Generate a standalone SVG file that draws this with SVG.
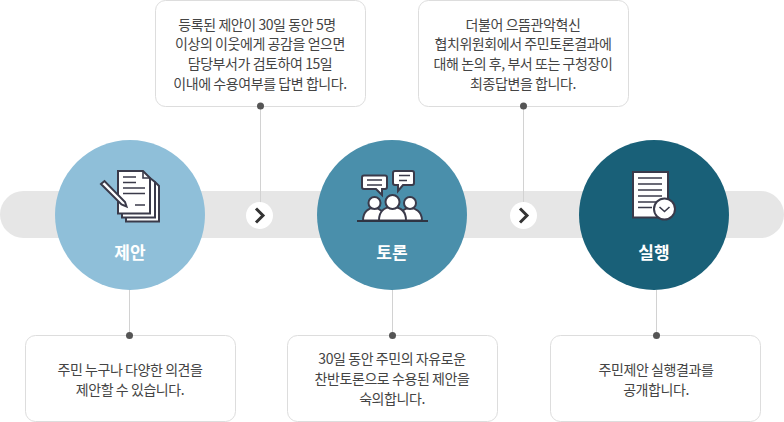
<svg xmlns="http://www.w3.org/2000/svg" width="784" height="422" viewBox="0 0 784 422">
<style>
.box{fill:#fff;stroke:#ddd;stroke-width:1}
.t{font-family:"Noto Sans CJK KR","Noto Sans",sans-serif;font-size:14px;fill:#444;text-anchor:middle;letter-spacing:-.43px}
.h{font-family:"Noto Sans CJK KR","Noto Sans",sans-serif;font-size:17px;font-weight:700;fill:#fff;text-anchor:middle}
.ln{stroke:#d2d2d2;stroke-width:1;fill:none}
.dot{fill:#555}
.ic{fill:#fff;stroke:#3a3a4a;stroke-width:2;stroke-linejoin:miter}
.il{stroke:#3a3a4a;stroke-width:1.6;fill:none}
.chev{fill:none;stroke:#333;stroke-width:3}
</style>
<rect id="band" x="0" y="191" width="784" height="47" rx="23.500" fill="#e6e6e6"/>
<g id="node-proposal">
<circle cx="130" cy="215" r="75" fill="#8fbfd9"/>
<path class="ic" d="M155 182L159 186V221.500H126V217"/>
<path class="ic" d="M150 178L155 182V217.500H122V213"/>
<path class="ic" d="M118 171H143L150 178V213.500H118Z"/>
<path class="il" d="M143 171V178H150M123 177H136M123 182.500H136M123 188H145M123 193.500H145M135 205H145"/>
<path class="ic" d="M101 184L104.500 181L125 202L126.500 206.500L121.500 204.500Z"/>
</g>
<g id="node-debate">
<circle cx="392" cy="215" r="75" fill="#4a8fab"/>
<path class="ic" d="M364 175.500H385Q387 175.500 387 177.500V187Q387 189 385 189H382V195L376 189H364Q362 189 362 187V177.500Q362 175.500 364 175.500Z"/>
<path class="il" d="M367 180H382M367 185H382"/>
<path class="ic" d="M395 171H412Q414 171 414 173V183Q414 185 412 185H403L398 191V185H395Q393 185 393 183V173Q393 171 395 171Z"/>
<path class="il" d="M399 175.500H410M399 180.500H407"/>
<path class="ic" d="M363 220.500C363 211 369 208 374 208C379 208 385 211 385 220.500Z"/>
<circle class="ic" cx="374.500" cy="203" r="6"/>
<path class="ic" d="M400 220.500C400 211 405 208 410 208C415 208 422 211 422 220.500Z"/>
<circle class="ic" cx="410" cy="203" r="6"/>
<path class="ic" d="M379 220.500C379 210 386 207 392 207C399 207 406 210 406 220.500Z"/>
<circle class="ic" cx="392.500" cy="202" r="7"/>
<path d="M357 221H428" stroke="#2f3442" stroke-width="1.800"/>
</g>
<g id="node-execute">
<circle cx="654" cy="215" r="75" fill="#196078"/>
<path class="ic" d="M633 172H668V217.500H633Z"/>
<path class="il" d="M638 178H662M638 184H662M638 190H662M638 196H662M638 202H660M638 207.500H652"/>
<circle class="ic" cx="664.500" cy="209" r="10.500"/>
<path class="il" d="M659.500 207L664.500 211.500L669.500 207" stroke-width="2"/>
</g>
<text class="h" x="130" y="259">제안</text>
<text class="h" x="392" y="259">토론</text>
<text class="h" x="654" y="259">실행</text>
<g id="box-top1">
<rect class="box" x="155.500" y="0.500" width="210" height="106" rx="10"/>
<text class="t" x="257" y="30">등록된 제안이 30일 동안 5명</text>
<text class="t" x="260" y="49">이상의 이웃에게 공감을 얻으면</text>
<text class="t" x="260" y="69">담당부서가 검토하여 15일</text>
<text class="t" x="260" y="89">이내에 수용여부를 답변 합니다.</text>
</g>
<g id="box-top2">
<rect class="box" x="418.500" y="0.500" width="210" height="106" rx="10"/>
<text class="t" x="523" y="30">더불어 으뜸관악혁신</text>
<text class="t" x="523" y="49">협치위원회에서 주민토론결과에</text>
<text class="t" x="523" y="69">대해 논의 후, 부서 또는 구청장이</text>
<text class="t" x="523" y="89">최종답변을 합니다.</text>
</g>
<g id="box-bottom1">
<rect class="box" x="25.500" y="335.500" width="210" height="86" rx="10"/>
<text class="t" x="130" y="375">주민 누구나 다양한 의견을</text>
<text class="t" x="130" y="395">제안할 수 있습니다.</text>
</g>
<g id="box-bottom2">
<rect class="box" x="287.500" y="335.500" width="210" height="86" rx="10"/>
<text class="t" x="392" y="364">30일 동안 주민의 자유로운</text>
<text class="t" x="392" y="384">찬반토론으로 수용된 제안을</text>
<text class="t" x="392" y="404">숙의합니다.</text>
</g>
<g id="box-bottom3">
<rect class="box" x="550.500" y="335.500" width="210" height="86" rx="10"/>
<text class="t" x="656" y="375">주민제안 실행결과를</text>
<text class="t" x="656" y="395">공개합니다.</text>
</g>
<g id="connectors">
<path class="ln" d="M260.500 106V203M523.500 106V203M129.500 290V335M392.500 290V335M656.500 290V335"/>
<circle class="dot" cx="260.500" cy="106" r="3.500"/>
<circle class="dot" cx="523.500" cy="106" r="3.500"/>
<circle class="dot" cx="129.500" cy="335.500" r="3.500"/>
<circle class="dot" cx="392.500" cy="335.500" r="3.500"/>
<circle class="dot" cx="656.500" cy="335.500" r="3.500"/>
<g id="arrow1"><circle cx="259.500" cy="215.500" r="13.500" fill="#fff"/><path class="chev" d="M256 208.500L263 215.500L256 222.500"/></g>
<g id="arrow2"><circle cx="523.500" cy="215.500" r="13.500" fill="#fff"/><path class="chev" d="M520 208.500L527 215.500L520 222.500"/></g>
</g>
</svg>
